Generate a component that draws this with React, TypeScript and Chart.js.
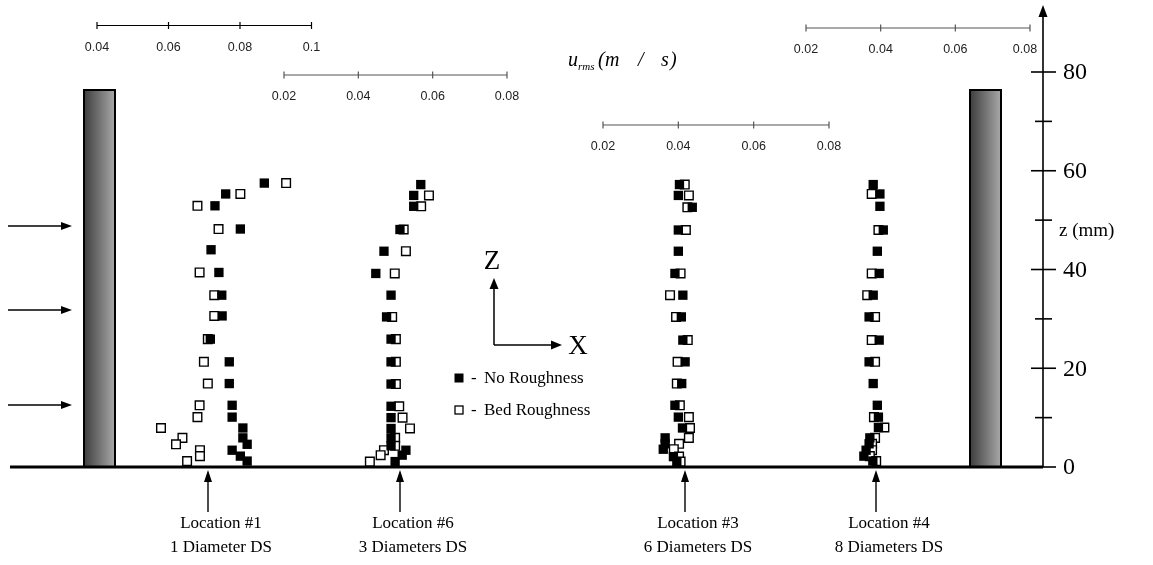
import React, { useEffect, useRef } from "react";
import { Chart, registerables } from "chart.js";
Chart.register(...registerables);

const W = 1153;
const H = 565;

// ---- data (z in mm, u_rms in m/s) ----
const loc1Z = [57.5, 55.3, 52.9, 48.2, 44.0, 39.4, 34.8, 30.6, 25.9, 21.3, 16.9, 12.5, 10.1, 7.9, 5.9, 4.6, 3.4, 2.2, 1.2];
const loc1NoRoughness = [0.0868, 0.076, 0.073, 0.0801, 0.0719, 0.0741, 0.0749, 0.075, 0.0717, 0.077, 0.077, 0.0778, 0.0778, 0.0808, 0.0808, 0.082, 0.0778, 0.0801, 0.082];
const loc1BedRoughness = [0.0929, 0.0801, 0.0681, 0.074, null, 0.0687, 0.0728, 0.0728, 0.071, 0.0699, 0.071, 0.0687, 0.0681, 0.0579, 0.0639, 0.0621, 0.0688, 0.0688, 0.0652];

const loc6Z = [57.2, 55.0, 52.8, 48.1, 43.7, 39.2, 34.8, 30.4, 25.9, 21.3, 16.8, 12.3, 10.0, 7.8, 5.9, 4.3, 3.4, 2.4, 1.1];
const loc6NoRoughness = [0.0568, 0.0549, 0.0549, 0.0512, 0.0469, 0.0447, 0.0488, 0.0476, 0.0488, 0.0488, 0.0488, 0.0488, 0.0488, 0.0488, 0.0488, 0.0488, 0.0528, 0.0518, 0.0499];
const loc6BedRoughness = [null, 0.059, 0.0569, 0.0522, 0.0528, 0.0498, null, 0.0491, 0.0501, 0.0501, 0.0501, 0.051, 0.0519, 0.0539, 0.0499, 0.0499, 0.0469, 0.046, 0.0431];

const loc3Z = [57.2, 55.0, 52.6, 48.0, 43.7, 39.2, 34.8, 30.4, 25.7, 21.3, 16.9, 12.5, 10.1, 7.9, 5.9, 4.7, 3.6, 2.1, 1.1];
const loc3NoRoughness = [0.0403, 0.04, 0.0437, 0.04, 0.04, 0.0391, 0.0412, 0.0408, 0.0412, 0.0418, 0.0409, 0.0391, 0.04, 0.0411, 0.0365, 0.0365, 0.036, 0.0387, 0.0396];
const loc3BedRoughness = [0.0417, 0.0428, 0.0424, 0.042, null, 0.0406, 0.0378, 0.0394, 0.0425, 0.0398, 0.0396, 0.0404, 0.0428, 0.0431, 0.0428, 0.0402, 0.0388, 0.0402, 0.0406];

const loc4Z = [57.2, 55.3, 52.8, 48.0, 43.7, 39.2, 34.8, 30.4, 25.7, 21.3, 16.9, 12.5, 10.1, 8.0, 5.9, 4.7, 3.4, 2.2, 1.2];
const loc4NoRoughness = [0.038, 0.0398, 0.0398, 0.0407, 0.0391, 0.0396, 0.038, 0.0369, 0.0396, 0.0369, 0.038, 0.0391, 0.0394, 0.0394, 0.0371, 0.0369, 0.0361, 0.0355, 0.0379];
const loc4BedRoughness = [null, 0.0376, null, 0.0394, null, 0.0376, 0.0364, 0.0385, 0.0376, 0.0385, null, null, 0.0382, 0.041, 0.0385, 0.0377, 0.0377, 0.0371, 0.0388];

const zMajorTicks = [0, 20, 40, 60, 80];
const zMinorTicks = [10, 30, 50, 70];
const loc1UTicks = [0.04, 0.06, 0.08, 0.1];
const loc6UTicks = [0.02, 0.04, 0.06, 0.08];
const loc3UTicks = [0.02, 0.04, 0.06, 0.08];
const loc4UTicks = [0.02, 0.04, 0.06, 0.08];
const locationNames = ["Location #1", "Location #6", "Location #3", "Location #4"];
const locationNotes = ["1 Diameter DS", "3 Diameters DS", "6 Diameters DS", "8 Diameters DS"];

// ---- layout ----
const SERIF = '"Liberation Serif", "Times New Roman", serif';
const SANS = '"Liberation Sans", Arial, sans-serif';
const AXIS_X = 1043;
const Z0_PX = 467;
const Z80_PX = 72;
const zPerPx = (Z0_PX - Z80_PX) / 80;
const yMin = -(H - Z0_PX) / zPerPx;
const yMax = 80 + Z80_PX / zPerPx;

const uAxes = [
  { id: "u1", ticks: loc1UTicks, px0: 97, px1: 311.5, axisY: 25.5, color: "#000", arrowX: 208, lastShift: 0 },
  { id: "u6", ticks: loc6UTicks, px0: 284, px1: 507, axisY: 75, color: "#555", arrowX: 400, lastShift: 0 },
  { id: "u3", ticks: loc3UTicks, px0: 603, px1: 829, axisY: 125, color: "#555", arrowX: 685, lastShift: 0 },
  { id: "u4", ticks: loc4UTicks, px0: 806, px1: 1030, axisY: 28, color: "#555", arrowX: 876, lastShift: -5 },
];

function uScale(a: typeof uAxes[number]) {
  const u0 = a.ticks[0];
  const u1 = a.ticks[a.ticks.length - 1];
  const k = (a.px1 - a.px0) / (u1 - u0);
  const min = u0 - a.px0 / k;
  return { type: "linear", display: false, min, max: min + W / k };
}

function pts(zs: number[], us: (number | null)[]) {
  const out: { x: number; y: number }[] = [];
  zs.forEach((z, i) => {
    const u = us[i];
    if (u !== null && u !== undefined) out.push({ x: u, y: z });
  });
  return out;
}

function arrow(ctx: CanvasRenderingContext2D, x0: number, y0: number, x1: number, y1: number, lw = 1.5, head = 10, half = 4) {
  const ang = Math.atan2(y1 - y0, x1 - x0);
  ctx.lineWidth = lw;
  ctx.beginPath();
  ctx.moveTo(x0, y0);
  ctx.lineTo(x1 - Math.cos(ang) * head * 0.8, y1 - Math.sin(ang) * head * 0.8);
  ctx.stroke();
  ctx.beginPath();
  ctx.moveTo(x1, y1);
  ctx.lineTo(x1 - Math.cos(ang) * head - Math.sin(ang) * half, y1 - Math.sin(ang) * head + Math.cos(ang) * half);
  ctx.lineTo(x1 - Math.cos(ang) * head + Math.sin(ang) * half, y1 - Math.sin(ang) * head - Math.cos(ang) * half);
  ctx.closePath();
  ctx.fill();
}

function pier(ctx: CanvasRenderingContext2D, x: number, w: number, top: number, bottom: number) {
  const g = ctx.createLinearGradient(x, 0, x + w, 0);
  g.addColorStop(0, "#3e3e3e");
  g.addColorStop(1, "#a8a8a8");
  ctx.fillStyle = g;
  ctx.fillRect(x, top, w, bottom - top);
  ctx.strokeStyle = "#000";
  ctx.lineWidth = 2;
  ctx.strokeRect(x, top, w, bottom - top);
}

const decorPlugin = {
  id: "decor",
  beforeDatasetsDraw(chart: any) {
    const ctx: CanvasRenderingContext2D = chart.ctx;
    const ys = chart.scales.y;
    const zp = (z: number) => ys.getPixelForValue(z);
    ctx.save();

    // piers
    pier(ctx, 84, 31, 90, zp(0));
    pier(ctx, 970, 31, 90, zp(0));

    // baseline
    ctx.strokeStyle = "#000";
    ctx.fillStyle = "#000";
    ctx.lineWidth = 3;
    ctx.beginPath();
    ctx.moveTo(10, zp(0));
    ctx.lineTo(AXIS_X, zp(0));
    ctx.stroke();

    // right z axis
    arrow(ctx, AXIS_X, zp(0), AXIS_X, 5, 1.6, 12, 4.5);
    ctx.lineWidth = 1.6;
    zMajorTicks.forEach((z) => {
      const y = zp(z);
      ctx.beginPath();
      ctx.moveTo(z === 0 ? AXIS_X : AXIS_X - 12, y);
      ctx.lineTo(AXIS_X + 13, y);
      ctx.stroke();
    });
    zMinorTicks.forEach((z) => {
      const y = zp(z);
      ctx.beginPath();
      ctx.moveTo(AXIS_X - 8, y);
      ctx.lineTo(AXIS_X + 9, y);
      ctx.stroke();
    });
    ctx.font = `24px ${SERIF}`;
    ctx.textAlign = "left";
    ctx.textBaseline = "middle";
    zMajorTicks.forEach((z) => ctx.fillText(String(z), 1063, zp(z) + 1));
    ctx.font = `19px ${SERIF}`;
    ctx.fillText("z (mm)", 1059, zp(48) + 1);

    // top mini axes
    uAxes.forEach((a) => {
      const s = chart.scales[a.id];
      const x0 = s.getPixelForValue(a.ticks[0]);
      const x1 = s.getPixelForValue(a.ticks[a.ticks.length - 1]);
      ctx.strokeStyle = a.color;
      ctx.lineWidth = 1.2;
      ctx.beginPath();
      ctx.moveTo(x0, a.axisY);
      ctx.lineTo(x1, a.axisY);
      ctx.stroke();
      a.ticks.forEach((t) => {
        const x = s.getPixelForValue(t);
        ctx.beginPath();
        ctx.moveTo(x, a.axisY - 3.5);
        ctx.lineTo(x, a.axisY + 3.5);
        ctx.stroke();
      });
      ctx.fillStyle = "#222";
      ctx.font = `12.5px ${SANS}`;
      ctx.textAlign = "center";
      ctx.textBaseline = "middle";
      a.ticks.forEach((t, i) => {
        const shift = i === a.ticks.length - 1 ? a.lastShift : 0;
        ctx.fillText(String(t), s.getPixelForValue(t) + shift, a.axisY + 22);
      });
    });

    // u_rms label
    ctx.fillStyle = "#000";
    ctx.textAlign = "left";
    ctx.textBaseline = "alphabetic";
    ctx.font = `italic 20px ${SERIF}`;
    ctx.fillText("u", 568, 66);
    ctx.font = `italic 11px ${SERIF}`;
    ctx.fillText("rms", 578, 70);
    ctx.font = `italic 20px ${SERIF}`;
    ctx.fillText("(", 598, 66);
    ctx.fillText("m", 605, 66);
    ctx.fillText("/", 638, 66);
    ctx.fillText("s", 661, 66);
    ctx.fillText(")", 670, 66);

    // flow arrows on the left
    ctx.strokeStyle = "#000";
    ctx.fillStyle = "#000";
    [226, 310, 405].forEach((y) => arrow(ctx, 8, y, 72, y, 1.4, 11, 4));

    // Z / X orientation arrows
    arrow(ctx, 494, 345, 494, 278, 1.5, 11, 4.5);
    arrow(ctx, 494, 345, 562, 345, 1.5, 11, 4.5);
    ctx.font = `27px ${SERIF}`;
    ctx.textAlign = "center";
    ctx.textBaseline = "middle";
    ctx.fillText("Z", 492, 262);
    ctx.fillText("X", 578, 347);

    // legend
    ctx.fillRect(454.5, 373.5, 9, 9);
    ctx.fillStyle = "#fff";
    ctx.strokeStyle = "#000";
    ctx.lineWidth = 1.3;
    ctx.fillRect(455, 406, 8, 8);
    ctx.strokeRect(455, 406, 8, 8);
    ctx.fillStyle = "#000";
    ctx.font = `17px ${SERIF}`;
    ctx.textAlign = "left";
    ctx.fillText("-", 471, 379);
    ctx.fillText("No Roughness", 484, 379);
    ctx.fillText("-", 471, 411);
    ctx.fillText("Bed Roughness", 484, 411);

    // location arrows and labels
    uAxes.forEach((a, i) => {
      arrow(ctx, a.arrowX, 512, a.arrowX, 470, 1.4, 12, 4);
      ctx.textAlign = "center";
      ctx.font = `17px ${SERIF}`;
      ctx.fillText(locationNames[i], a.arrowX + 13, 524);
      ctx.fillText(locationNotes[i], a.arrowX + 13, 548);
    });

    ctx.restore();
  },
};

const filledStyle = { pointStyle: "rect", pointRadius: 6.6, backgroundColor: "#000", borderColor: "#000", borderWidth: 0, showLine: false, order: 0 };
const openStyle = { pointStyle: "rect", pointRadius: 6.1, backgroundColor: "#fff", borderColor: "#000", borderWidth: 1.4, showLine: false, order: 1 };

export default function App() {
  const ref = useRef<HTMLCanvasElement>(null);
  useEffect(() => {
    if (!ref.current) return;
    const chart = new Chart(ref.current, {
      type: "scatter",
      data: {
        datasets: [
          { label: "Loc1 No Roughness", data: pts(loc1Z, loc1NoRoughness), xAxisID: "u1", yAxisID: "y", ...filledStyle },
          { label: "Loc6 No Roughness", data: pts(loc6Z, loc6NoRoughness), xAxisID: "u6", yAxisID: "y", ...filledStyle },
          { label: "Loc3 No Roughness", data: pts(loc3Z, loc3NoRoughness), xAxisID: "u3", yAxisID: "y", ...filledStyle },
          { label: "Loc4 No Roughness", data: pts(loc4Z, loc4NoRoughness), xAxisID: "u4", yAxisID: "y", ...filledStyle },
          { label: "Loc1 Bed Roughness", data: pts(loc1Z, loc1BedRoughness), xAxisID: "u1", yAxisID: "y", ...openStyle },
          { label: "Loc6 Bed Roughness", data: pts(loc6Z, loc6BedRoughness), xAxisID: "u6", yAxisID: "y", ...openStyle },
          { label: "Loc3 Bed Roughness", data: pts(loc3Z, loc3BedRoughness), xAxisID: "u3", yAxisID: "y", ...openStyle },
          { label: "Loc4 Bed Roughness", data: pts(loc4Z, loc4BedRoughness), xAxisID: "u4", yAxisID: "y", ...openStyle },
        ] as any,
      },
      options: {
        animation: false,
        responsive: false,
        devicePixelRatio: 1,
        events: [],
        layout: { padding: 0, autoPadding: false },
        scales: {
          u1: uScale(uAxes[0]),
          u6: uScale(uAxes[1]),
          u3: uScale(uAxes[2]),
          u4: uScale(uAxes[3]),
          y: { type: "linear", display: false, min: yMin, max: yMax },
        } as any,
        plugins: { legend: { display: false }, tooltip: { enabled: false }, title: { display: false } },
      },
      plugins: [decorPlugin],
    });
    return () => chart.destroy();
  }, []);
  return (
    <div style={{ position: "fixed", left: 0, top: 0, width: W, height: H, background: "#fff" }}>
      <canvas ref={ref} width={W} height={H} style={{ display: "block" }} />
    </div>
  );
}
